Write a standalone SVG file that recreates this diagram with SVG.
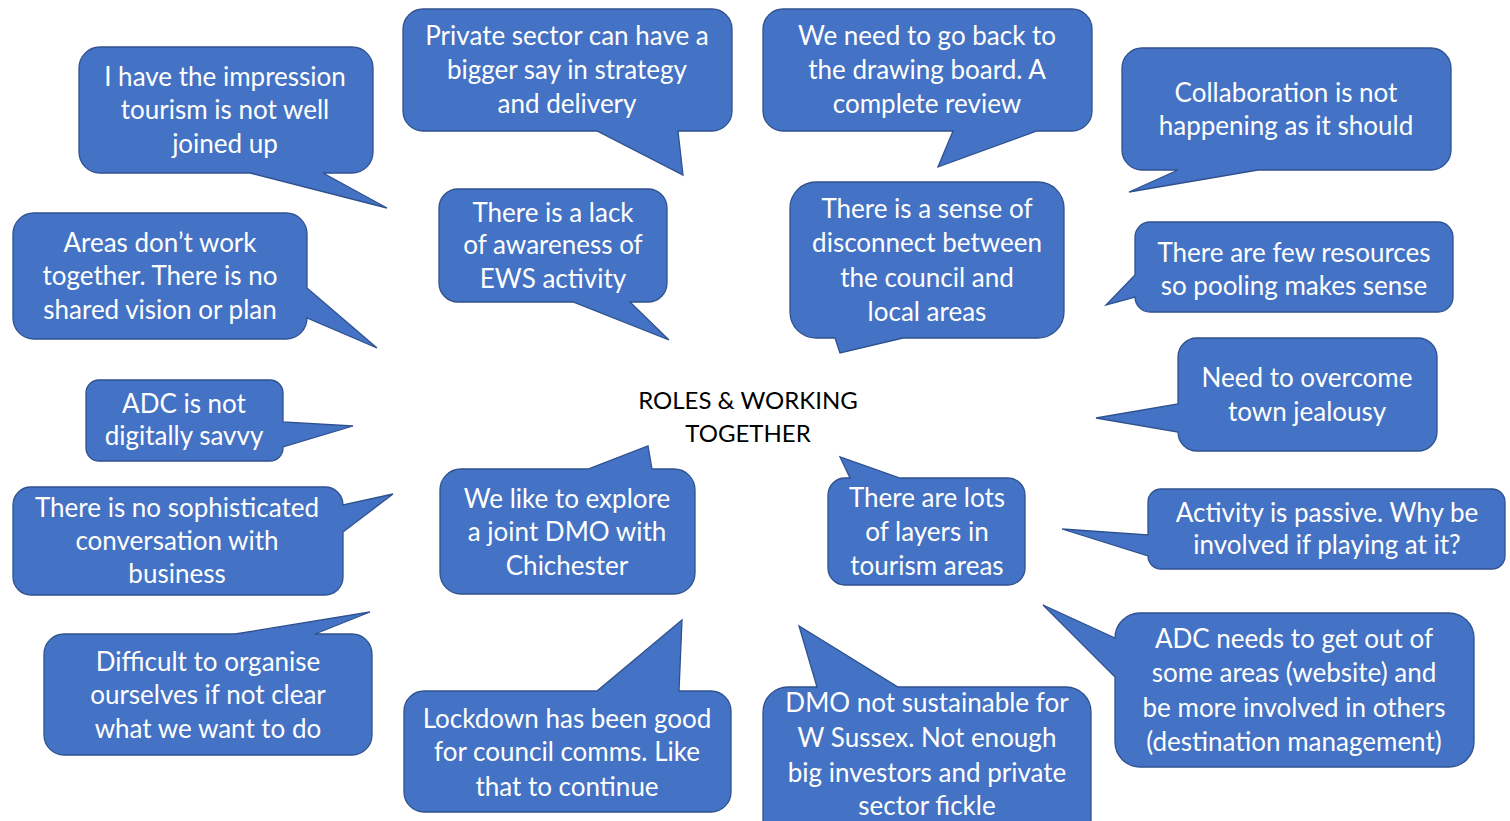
<svg xmlns="http://www.w3.org/2000/svg" width="1510" height="821" viewBox="0 0 1510 821">
<style>
.b{fill:#4472C4;stroke:#2F528F;stroke-width:1.3;stroke-linejoin:miter}
.t{font-family:Lato,"Open Sans","Liberation Sans",sans-serif;font-size:26px;fill:#FFFFFF;text-anchor:middle}
.c{font-family:Lato,"Open Sans","Liberation Sans",sans-serif;font-size:24px;fill:#000000;text-anchor:middle}
</style>
<rect width="1510" height="821" fill="#FFFFFF"/>
<g id="connectors"></g>
<g id="n1"><path class="b" d="M100,47 H352 A21,21 0 0 1 373,68 V152 A21,21 0 0 1 352,173 H323 L387,208 L250,173 H100 A21,21 0 0 1 79,152 V68 A21,21 0 0 1 100,47 Z"/>
<text class="t"><tspan x="225" y="86">I have the impression</tspan><tspan x="225" y="119">tourism is not well</tspan><tspan x="225" y="153">joined up</tspan></text></g>
<g id="n2"><path class="b" d="M423,9 H712 A20,20 0 0 1 732,29 V111 A20,20 0 0 1 712,131 H678 L683,175 L597,131 H423 A20,20 0 0 1 403,111 V29 A20,20 0 0 1 423,9 Z"/>
<text class="t"><tspan x="567" y="45">Private sector can have a</tspan><tspan x="567" y="79">bigger say in strategy</tspan><tspan x="567" y="113">and delivery</tspan></text></g>
<g id="n3"><path class="b" d="M783,9 H1072 A20,20 0 0 1 1092,29 V111 A20,20 0 0 1 1072,131 H1037 L938,167 L953,131 H783 A20,20 0 0 1 763,111 V29 A20,20 0 0 1 783,9 Z"/>
<text class="t"><tspan x="927" y="45">We need to go back to</tspan><tspan x="927" y="79">the drawing board. A</tspan><tspan x="927" y="113">complete review</tspan></text></g>
<g id="n4"><path class="b" d="M1142,48 H1431 A20,20 0 0 1 1451,68 V150 A20,20 0 0 1 1431,170 H1258 L1129,192 L1178,170 H1142 A20,20 0 0 1 1122,150 V68 A20,20 0 0 1 1142,48 Z"/>
<text class="t"><tspan x="1286" y="102">Collaboration is not</tspan><tspan x="1286" y="135">happening as it should</tspan></text></g>
<g id="n5"><path class="b" d="M816,182 H1038 A26,26 0 0 1 1064,208 V312 A26,26 0 0 1 1038,338 H903 L840,353 L835,338 H816 A26,26 0 0 1 790,312 V208 A26,26 0 0 1 816,182 Z"/>
<text class="t"><tspan x="927" y="218">There is a sense of</tspan><tspan x="927" y="252">disconnect between</tspan><tspan x="927" y="287">the council and</tspan><tspan x="927" y="321">local areas</tspan></text></g>
<g id="n6"><path class="b" d="M1150,222 H1438 A15,15 0 0 1 1453,237 V297 A15,15 0 0 1 1438,312 H1150 A15,15 0 0 1 1135,297 L1106,305 L1135,275 V237 A15,15 0 0 1 1150,222 Z"/>
<text class="t"><tspan x="1294" y="262">There are few resources</tspan><tspan x="1294" y="295">so pooling makes sense</tspan></text></g>
<g id="n7"><path class="b" d="M1197,338 H1418 A19,19 0 0 1 1437,357 V432 A19,19 0 0 1 1418,451 H1197 A19,19 0 0 1 1178,432 L1096,418 L1178,404 V357 A19,19 0 0 1 1197,338 Z"/>
<text class="t"><tspan x="1307" y="387">Need to overcome</tspan><tspan x="1307" y="421">town jealousy</tspan></text></g>
<g id="n8"><path class="b" d="M1161,489 H1492 A13,13 0 0 1 1505,502 V556 A13,13 0 0 1 1492,569 H1161 A13,13 0 0 1 1148,556 L1062,529 L1148,535 V502 A13,13 0 0 1 1161,489 Z"/>
<text class="t"><tspan x="1327" y="522">Activity is passive. Why be</tspan><tspan x="1327" y="554">involved if playing at it?</tspan></text></g>
<g id="n9"><path class="b" d="M1140,613 H1449 A25,25 0 0 1 1474,638 V742 A25,25 0 0 1 1449,767 H1140 A25,25 0 0 1 1115,742 V677 L1043,605 L1115,638 A25,25 0 0 1 1140,613 Z"/>
<text class="t"><tspan x="1294" y="648">ADC needs to get out of</tspan><tspan x="1294" y="682">some areas (website) and</tspan><tspan x="1294" y="717">be more involved in others</tspan><tspan x="1294" y="751">(destination management)</tspan></text></g>
<g id="n10"><path class="b" d="M788,687 H817 L799,626 L898,687 H1066 A25,25 0 0 1 1091,712 V845 H763 V712 A25,25 0 0 1 788,687 Z"/>
<text class="t"><tspan x="927" y="712">DMO not sustainable for</tspan><tspan x="927" y="747">W Sussex. Not enough</tspan><tspan x="927" y="782">big investors and private</tspan><tspan x="927" y="815">sector fickle</tspan></text></g>
<g id="n11"><path class="b" d="M845,478 H850 L840,457 L900,478 H1008 A17,17 0 0 1 1025,495 V568 A17,17 0 0 1 1008,585 H845 A17,17 0 0 1 828,568 V495 A17,17 0 0 1 845,478 Z"/>
<text class="t"><tspan x="927" y="507">There are lots</tspan><tspan x="927" y="541">of layers in</tspan><tspan x="927" y="575">tourism areas</tspan></text></g>
<g id="n12"><path class="b" d="M461,469 H588 L648,446 L652,469 H674 A21,21 0 0 1 695,490 V573 A21,21 0 0 1 674,594 H461 A21,21 0 0 1 440,573 V490 A21,21 0 0 1 461,469 Z"/>
<text class="t"><tspan x="567" y="508">We like to explore</tspan><tspan x="567" y="541">a joint DMO with</tspan><tspan x="567" y="575">Chichester</tspan></text></g>
<g id="n13"><path class="b" d="M458,189 H648 A19,19 0 0 1 667,208 V283 A19,19 0 0 1 648,302 H630 L669,340 L573,302 H458 A19,19 0 0 1 439,283 V208 A19,19 0 0 1 458,189 Z"/>
<text class="t"><tspan x="553" y="222">There is a lack</tspan><tspan x="553" y="254">of awareness of</tspan><tspan x="553" y="288">EWS activity</tspan></text></g>
<g id="n14"><path class="b" d="M34,213 H286 A21,21 0 0 1 307,234 V288 L377,348 L307,318 A21,21 0 0 1 286,339 H34 A21,21 0 0 1 13,318 V234 A21,21 0 0 1 34,213 Z"/>
<text class="t"><tspan x="160" y="252">Areas don’t work</tspan><tspan x="160" y="285">together. There is no</tspan><tspan x="160" y="319">shared vision or plan</tspan></text></g>
<g id="n15"><path class="b" d="M99,380 H270 A13,13 0 0 1 283,393 V422 L353,426 L283,447 V448 A13,13 0 0 1 270,461 H99 A13,13 0 0 1 86,448 V393 A13,13 0 0 1 99,380 Z"/>
<text class="t"><tspan x="184" y="413">ADC is not</tspan><tspan x="184" y="445">digitally savvy</tspan></text></g>
<g id="n16"><path class="b" d="M31,487 H325 A18,18 0 0 1 343,505 L393,494 L343,532 V577 A18,18 0 0 1 325,595 H31 A18,18 0 0 1 13,577 V505 A18,18 0 0 1 31,487 Z"/>
<text class="t"><tspan x="177" y="517">There is no sophisticated</tspan><tspan x="177" y="550">conversation with</tspan><tspan x="177" y="583">business</tspan></text></g>
<g id="n17"><path class="b" d="M64,634 H235 L370,612 L315,634 H352 A20,20 0 0 1 372,654 V735 A20,20 0 0 1 352,755 H64 A20,20 0 0 1 44,735 V654 A20,20 0 0 1 64,634 Z"/>
<text class="t"><tspan x="208" y="671">Difficult to organise</tspan><tspan x="208" y="704">ourselves if not clear</tspan><tspan x="208" y="738">what we want to do</tspan></text></g>
<g id="n18"><path class="b" d="M424,691 H597 L682,620 L679,691 H711 A20,20 0 0 1 731,711 V792 A20,20 0 0 1 711,812 H424 A20,20 0 0 1 404,792 V711 A20,20 0 0 1 424,691 Z"/>
<text class="t"><tspan x="567" y="728">Lockdown has been good</tspan><tspan x="567" y="761">for council comms. Like</tspan><tspan x="567" y="796">that to continue</tspan></text></g>
<g id="center"><text class="c"><tspan x="748" y="409">ROLES &amp; WORKING</tspan><tspan x="748" y="442">TOGETHER</tspan></text></g>
</svg>
